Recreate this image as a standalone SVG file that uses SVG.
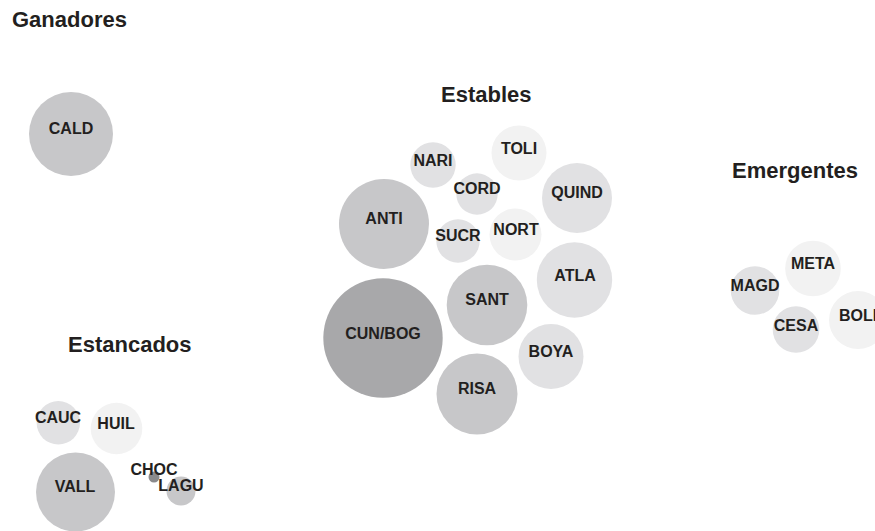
<svg xmlns="http://www.w3.org/2000/svg" width="875" height="531" viewBox="0 0 875 531">
  <style>
    .title { font-family: "Liberation Sans", Arial, sans-serif; font-weight: bold; font-size: 22px; fill: #231f20; }
    .lbl { font-family: "Liberation Sans", Arial, sans-serif; font-weight: bold; font-size: 16px; fill: #231f20; text-anchor: middle; }
    .c0 { fill: #a8a8aa; }
    .c1 { fill: #c7c7c9; }
    .c2 { fill: #e1e1e3; }
    .c3 { fill: #f2f2f2; }
    .c4 { fill: #8a8a8c; }
  </style>
  <rect width="875" height="531" fill="#ffffff"/>

  <!-- group titles -->
  <g id="titles">
    <text class="title" x="12" y="27">Ganadores</text>
    <text class="title" x="441" y="102">Estables</text>
    <text class="title" x="732" y="178">Emergentes</text>
    <text class="title" x="68" y="352">Estancados</text>
  </g>

  <!-- Ganadores -->
  <g id="CALD"><circle class="c1" cx="71" cy="134" r="42"/><text class="lbl" x="71" y="134">CALD</text></g>

  <!-- Estables -->
  <g id="TOLI"><circle class="c3" cx="519" cy="153" r="27.5"/><text class="lbl" x="519" y="154">TOLI</text></g>
  <g id="NARI"><circle class="c2" cx="433" cy="165" r="22.7"/><text class="lbl" x="433" y="166">NARI</text></g>
  <g id="CORD"><circle class="c2" cx="477" cy="194" r="20.7"/><text class="lbl" x="477" y="194">CORD</text></g>
  <g id="QUIND"><circle class="c2" cx="577" cy="198" r="35"/><text class="lbl" x="577" y="198">QUIND</text></g>
  <g id="ANTI"><circle class="c1" cx="384" cy="224" r="45"/><text class="lbl" x="384" y="224">ANTI</text></g>
  <g id="SUCR"><circle class="c2" cx="458" cy="241" r="21.7"/><text class="lbl" x="458" y="241">SUCR</text></g>
  <g id="NORT"><circle class="c3" cx="515.5" cy="234.5" r="26"/><text class="lbl" x="516" y="235">NORT</text></g>
  <g id="ATLA"><circle class="c2" cx="574.5" cy="280" r="37.7"/><text class="lbl" x="575" y="281">ATLA</text></g>
  <g id="SANT"><circle class="c1" cx="487" cy="305" r="40.3"/><text class="lbl" x="487" y="305">SANT</text></g>
  <g id="CUN_BOG"><circle class="c0" cx="383" cy="338" r="59.7"/><text class="lbl" x="383" y="339">CUN/BOG</text></g>
  <g id="BOYA"><circle class="c2" cx="551" cy="356.5" r="32.5"/><text class="lbl" x="551" y="357">BOYA</text></g>
  <g id="RISA"><circle class="c1" cx="477" cy="394" r="40.5"/><text class="lbl" x="477" y="394">RISA</text></g>

  <!-- Emergentes -->
  <g id="META"><circle class="c3" cx="813" cy="268.5" r="27.8"/><text class="lbl" x="813" y="269">META</text></g>
  <g id="MAGD"><circle class="c2" cx="755" cy="290.5" r="24.3"/><text class="lbl" x="755" y="291">MAGD</text></g>
  <g id="CESA"><circle class="c2" cx="796" cy="329.5" r="23.3"/><text class="lbl" x="796" y="331">CESA</text></g>
  <g id="BOLI"><circle class="c3" cx="858" cy="320" r="29"/><text class="lbl" x="858" y="321">BOLI</text></g>

  <!-- Estancados -->
  <g id="CAUC"><circle class="c2" cx="58.3" cy="422.8" r="21.7"/><text class="lbl" x="58" y="423">CAUC</text></g>
  <g id="HUIL"><circle class="c3" cx="116.5" cy="428.5" r="25.8"/><text class="lbl" x="116" y="429">HUIL</text></g>
  <g id="VALL"><circle class="c1" cx="75.5" cy="492" r="39.5"/><text class="lbl" x="75" y="492">VALL</text></g>
  <g id="LAGU"><circle class="c1" cx="181" cy="491" r="14.5"/></g>
  <g id="CHOC"><circle class="c4" cx="154" cy="477" r="5.5"/><text class="lbl" x="154" y="475">CHOC</text></g>
  <g id="LAGU-label"><text class="lbl" x="181" y="491">LAGU</text></g>

  <!-- no connectors in this chart -->
  <g id="connectors"/>
</svg>
